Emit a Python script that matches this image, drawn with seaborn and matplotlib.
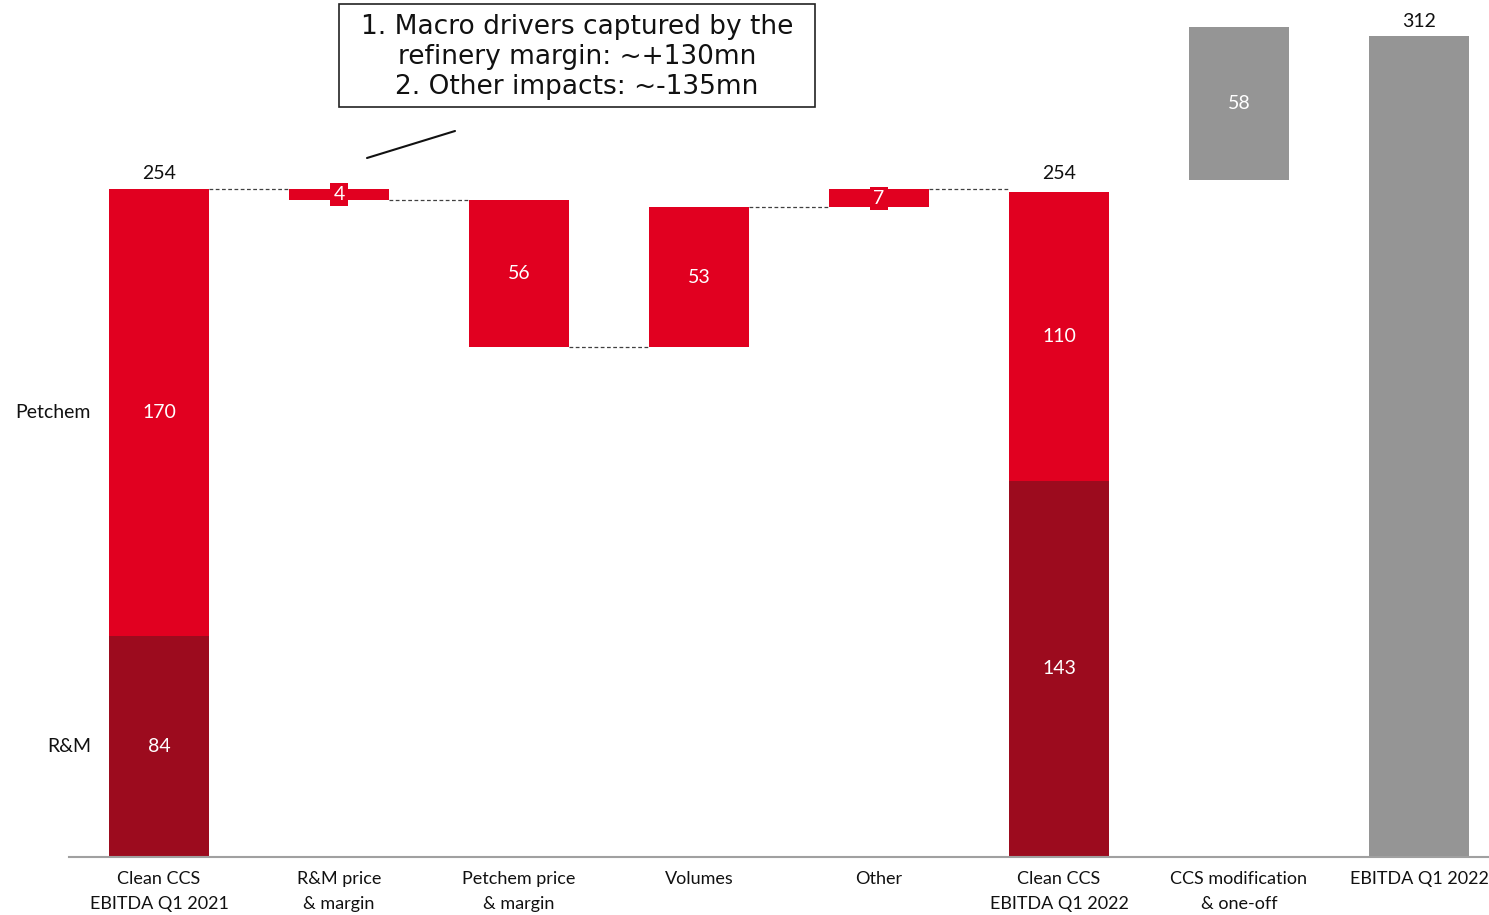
import matplotlib
matplotlib.use("Agg")
import matplotlib.pyplot as plt
from matplotlib.patches import Rectangle
import seaborn as sns
import numpy as np

categories = ["Clean CCS\nEBITDA Q1 2021", "R&M price\n& margin", "Petchem price\n& margin",
              "Volumes", "Other", "Clean CCS\nEBITDA Q1 2022", "CCS modification\n& one-off",
              "EBITDA Q1 2022"]
rm_values = [84, 0, 0, 0, 0, 143, 0, 0]
main_values = [170, 4, 56, 53, 7, 110, 58, 312]
main_bottoms = [84, 250, 194, 194, 247, 143, 257.5, 0]
inner_labels = ["170", "4", "56", "53", "7", "110", "58", ""]
rm_labels = ["84", "", "", "", "", "143", "", ""]
totals = {0: 254, 5: 254, 7: 312}
connectors = [(0, 254), (1, 250), (2, 194), (3, 247), (4, 254)]
box_text = "1. Macro drivers captured by the\nrefinery margin: ~+130mn\n2. Other impacts: ~-135mn"

RED = "#E10020"
DARK = "#9C0B1E"
GREY = "#959595"
main_colors = [RED, RED, RED, RED, RED, RED, GREY, GREY]

sns.set_theme(style="white")
plt.rcParams["font.family"] = ["Lato", "DejaVu Sans"]

W, H = 1489, 915
fig = plt.figure(figsize=(W / 100, H / 100), dpi=100)
ax = fig.add_axes([69 / W, (H - 857) / H, 1 - 69 / W, 857 / H])

bw = 100 / 180
sns.barplot(x=categories, y=rm_values, order=categories, color=DARK, width=bw,
            saturation=1, ax=ax, linewidth=0)
sns.barplot(x=categories, y=main_values, order=categories, color=RED, width=bw,
            saturation=1, ax=ax, bottom=main_bottoms, linewidth=0)
for patch, c in zip(ax.containers[-1], main_colors):
    patch.set_facecolor(c)

ymax = 857 * 254 / 668
ax.set_ylim(0, ymax)
ax.set_xlim(-0.5, 7 + 70 / 180)

# labels
for i, (v, b, lab) in enumerate(zip(main_values, main_bottoms, inner_labels)):
    if not lab:
        continue
    yc = b + v / 2
    if v < 10:
        ax.text(i, yc, lab, ha="center", va="center", color="white", fontsize=14,
                bbox=dict(boxstyle="square,pad=0.15", fc=RED, ec="none"))
    else:
        ax.text(i, yc, lab, ha="center", va="center", color="white", fontsize=14)
for i, (v, lab) in enumerate(zip(rm_values, rm_labels)):
    if lab:
        ax.text(i, v / 2, lab, ha="center", va="center", color="white", fontsize=14)
for i, t in totals.items():
    top = main_bottoms[i] + main_values[i]
    ax.text(i, max(top, t) + 2.5, str(t), ha="center", va="bottom", color="#111111", fontsize=14)

for i, y in connectors:
    ax.plot([i + bw / 2, i + 1 - bw / 2], [y, y], ls=(0, (3, 2)), color="#404040", lw=0.9)

ax.set_yticks([])
ax.set_xticks(range(len(categories)))
ax.set_xticklabels(categories, fontsize=13, linespacing=1.7, color="#111111")
ax.tick_params(axis="x", length=0, pad=10)
ax.set_xlabel("")
for s in ["top", "left", "right"]:
    ax.spines[s].set_visible(False)
ax.spines["bottom"].set_color("#A0A0A0")
ax.spines["bottom"].set_linewidth(1.5)

fig.text(91 / W, 1 - 413 / H, "Petchem", ha="right", va="center", fontsize=14, color="#111111")
fig.text(91 / W, 1 - 747 / H, "R&M", ha="right", va="center", fontsize=14, color="#111111")

fig.add_artist(Rectangle((339 / W, 1 - 107 / H), (815 - 339) / W, 103 / H,
                         transform=fig.transFigure, fc="white", ec="#222222", lw=1.2))
fig.text(577 / W, 1 - 57 / H, box_text, ha="center", va="center", fontsize=19,
         family=["DejaVu Sans"], linespacing=1.2, color="#111111")
fig.add_artist(plt.Line2D([367 / W, 455 / W], [1 - 158 / H, 1 - 131 / H],
                          color="#111111", lw=1.5, transform=fig.transFigure))

fig.savefig("out.png", dpi=100)
